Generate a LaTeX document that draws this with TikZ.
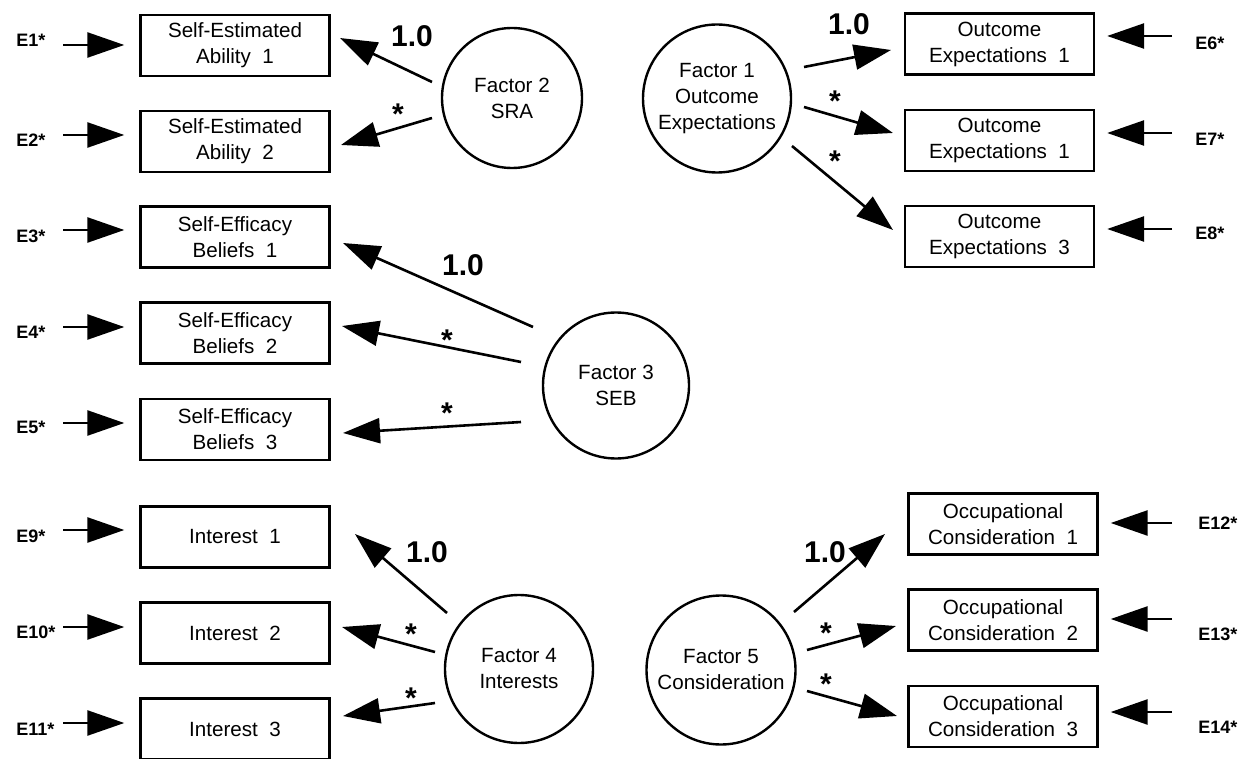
\documentclass[tikz,border=0pt]{standalone}
\usepackage{fontspec}
\setmainfont{Liberation Sans}
\usetikzlibrary{arrows.meta,calc}
\begin{document}
\begin{tikzpicture}[x=0.5pt,y=-0.5pt,
  boxnode/.style={draw,line width=1.2pt,minimum width=94.5pt,minimum height=30.5pt,
    inner sep=0pt,align=center,font=\fontsize{10.3}{13}\selectfont},
  factor/.style={draw,circle,line width=1.2pt,inner sep=0pt,align=center,
    font=\fontsize{10.3}{13}\selectfont},
  errlabel/.style={anchor=west,inner sep=0pt,font=\bfseries\fontsize{9}{11}\selectfont},
  loadlabel/.style={inner sep=0pt,font=\bfseries\fontsize{15}{18}\selectfont},
  starlabel/.style={inner sep=0pt,yshift=-3pt,font=\bfseries\fontsize{15}{18}\selectfont},
  patharrow/.style={line width=1.3pt,-{Triangle[length=18.5pt,width=12.5pt]}},
]
\useasboundingbox (0,0) rectangle (1248,759);

% ---- observed indicators, left column
\node[boxnode] (b1) at (235,45.5)  {Self-Estimated\\Ability~~1};
\node[boxnode] (b2) at (235,141.5) {Self-Estimated\\Ability~~2};
\node[boxnode] (b3) at (235,237)   {Self-Efficacy\\Beliefs~~1};
\node[boxnode] (b4) at (235,333)   {Self-Efficacy\\Beliefs~~2};
\node[boxnode] (b5) at (235,429.5) {Self-Efficacy\\Beliefs~~3};
\node[boxnode] (i1) at (235,537)   {Interest~~1};
\node[boxnode] (i2) at (235,633)   {Interest~~2};
\node[boxnode] (i3) at (235,729)   {Interest~~3};

% ---- observed indicators, right column
\node[boxnode] (o1) at (999.5,44)    {Outcome\\Expectations~~1};
\node[boxnode] (o2) at (999.5,140.5) {Outcome\\Expectations~~1};
\node[boxnode] (o3) at (999.5,236.5) {Outcome\\Expectations~~3};
\node[boxnode] (c1) at (1003,524)    {Occupational\\Consideration~~1};
\node[boxnode] (c2) at (1003,620)    {Occupational\\Consideration~~2};
\node[boxnode] (c3) at (1003,716.5)  {Occupational\\Consideration~~3};

% ---- latent factors
\node[factor,minimum size=70pt]   (f2) at (512,98)    {Factor 2\\SRA};
\node[factor,minimum size=74pt]   (f1) at (717,98.5)  {Factor 1\\Outcome\\Expectations};
\node[factor,minimum size=73pt]   (f3) at (616,385.5) {Factor 3\\SEB};
\node[factor,minimum size=74pt]   (f4) at (519,669)   {Factor 4\\Interests};
\node[factor,minimum size=74.5pt] (f5) at (721,670)   {Factor 5\\Consideration};

% ---- error terms, left
\node[errlabel] (e1)  at (16,40)  {E1*};
\node[errlabel] (e2)  at (16,140) {E2*};
\node[errlabel] (e3)  at (16,236) {E3*};
\node[errlabel] (e4)  at (16,332) {E4*};
\node[errlabel] (e5)  at (16,427) {E5*};
\node[errlabel] (e9)  at (16,536) {E9*};
\node[errlabel] (e10) at (16,632) {E10*};
\node[errlabel] (e11) at (16,729) {E11*};

% ---- error terms, right
\node[errlabel] (e6)  at (1195,43)  {E6*};
\node[errlabel] (e7)  at (1195,139) {E7*};
\node[errlabel] (e8)  at (1195,233) {E8*};
\node[errlabel] (e12) at (1198,523) {E12*};
\node[errlabel] (e13) at (1198,634) {E13*};
\node[errlabel] (e14) at (1198,727) {E14*};

% ---- error arrows into the indicators
\foreach \bx/\yy in {b1/45,b2/135,b3/230,b4/327,b5/423,i1/530,i2/627,i3/723}{
  \coordinate (\bx-err) at (63,\yy);
  \draw[patharrow,shorten >=7.5pt] (\bx-err) -- (\bx.west |- \bx-err);
}
\foreach \bx/\yy in {o1/36,o2/133,o3/229,c1/523,c2/619,c3/712}{
  \coordinate (\bx-err) at (1172,\yy);
  \draw[patharrow,shorten >=6pt] (\bx-err) -- (\bx.east |- \bx-err);
}

% ---- loadings: start points beside each factor, tips beside each indicator
\coordinate (f2a) at (432,82);   \coordinate (b1t) at (340,38);
\coordinate (f2b) at (432,118);  \coordinate (b2t) at (341,145);
\coordinate (f3a) at (533,327);  \coordinate (b3t) at (343,243);
\coordinate (f3b) at (521,362);  \coordinate (b4t) at (342,326);
\coordinate (f3c) at (521,422);  \coordinate (b5t) at (343,433);
\coordinate (f4a) at (447,613);  \coordinate (i1t) at (355,534);
\coordinate (f4b) at (435,652);  \coordinate (i2t) at (342,627);
\coordinate (f4c) at (435,703);  \coordinate (i3t) at (343,716);
\coordinate (f1a) at (804,67);   \coordinate (o1t) at (891,50);
\coordinate (f1b) at (804,107);  \coordinate (o2t) at (893,133);
\coordinate (f1c) at (792,146);  \coordinate (o3t) at (893,230);
\coordinate (f5a) at (794,612);  \coordinate (c1t) at (885,534);
\coordinate (f5b) at (807,650);  \coordinate (c2t) at (896,626);
\coordinate (f5c) at (807,691);  \coordinate (c3t) at (897,716);

\foreach \s/\t in {f2a/b1t,f2b/b2t,f3a/b3t,f3b/b4t,f3c/b5t,f4a/i1t,f4b/i2t,f4c/i3t,
                   f1a/o1t,f1b/o2t,f1c/o3t,f5a/c1t,f5b/c2t,f5c/c3t}{
  \draw[patharrow] (\s) -- (\t);
}

% ---- loading labels
\node[loadlabel] (l2) at (412,36)  {1.0};
\node[loadlabel] (l3) at (463,265) {1.0};
\node[loadlabel] (l4) at (427,552) {1.0};
\node[loadlabel] (l1) at (849,24)  {1.0};
\node[loadlabel] (l5) at (825,552) {1.0};

\node[starlabel] (s2b) at (398,108) {*};
\node[starlabel] (s3b) at (447,334) {*};
\node[starlabel] (s3c) at (447,407) {*};
\node[starlabel] (s4b) at (411,628) {*};
\node[starlabel] (s4c) at (411,692) {*};
\node[starlabel] (s1b) at (835,95)  {*};
\node[starlabel] (s1c) at (835,155) {*};
\node[starlabel] (s5b) at (826,627) {*};
\node[starlabel] (s5c) at (826,678) {*};
\end{tikzpicture}
\end{document}
